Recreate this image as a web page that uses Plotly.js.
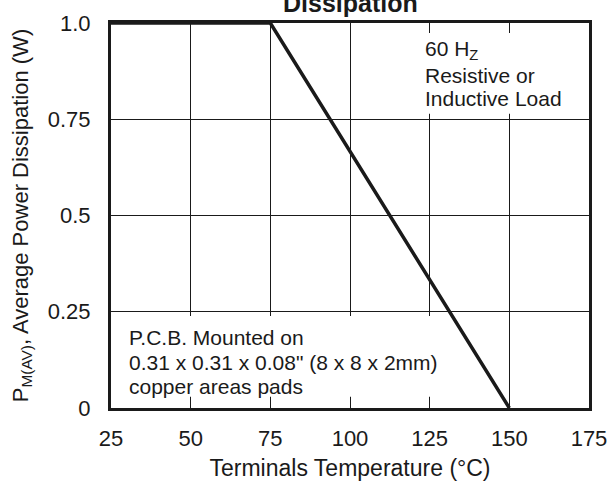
<!DOCTYPE html>
<html>
<head>
<meta charset="utf-8">
<script src="https://cdn.plot.ly/plotly-3.0.1.min.js"></script>
<style>html,body{margin:0;padding:0;background:#fff;}#chart{width:612px;height:483px;}</style>
</head>
<body>
<div id="chart"></div>
<script>
// Data
const tempC = [25, 75, 150];
const powerW = [1.0, 1.0, 0.0];
const xTicks = [25, 50, 75, 100, 125, 150, 175];
const yTicks = [0, 0.25, 0.5, 0.75, 1.0];
const yTickText = ['0', '0.25', '0.5', '0.75', '1.0'];

const FONT = 'Liberation Sans, Arial, Helvetica, sans-serif';
const INK = '#1a1a1a';

const traces = [{
  x: tempC, y: powerW, type: 'scatter', mode: 'lines',
  line: {color: INK, width: 3.5}, hoverinfo: 'skip', showlegend: false, cliponaxis: false
}];

function note(text, x, y, size) {
  return {text: text, xref: 'paper', yref: 'paper', x: x, y: y, xanchor: 'left', yanchor: 'middle',
          showarrow: false, font: {family: FONT, size: size, color: INK}};
}

const layout = {
  width: 612, height: 483,
  margin: {l: 111, r: 23, t: 23, b: 75},
  paper_bgcolor: '#fff', plot_bgcolor: '#fff',
  font: {family: FONT, color: INK, size: 22},
  xaxis: {
    range: [25, 175], tickvals: xTicks, ticktext: xTicks.map(String),
    showgrid: true, gridcolor: INK, gridwidth: 1, zeroline: false,
    showline: true, mirror: true, linecolor: INK, linewidth: 3,
    ticks: 'outside', ticklen: 9, tickcolor: 'rgba(0,0,0,0)',
    tickfont: {family: FONT, size: 22, color: INK},
    title: {text: 'Terminals Temperature (°C)', font: {family: FONT, size: 23, color: INK}, standoff: 10}
  },
  yaxis: {
    range: [0, 1.0], tickvals: yTicks, ticktext: yTickText,
    showgrid: true, gridcolor: INK, gridwidth: 1, zeroline: false,
    showline: true, mirror: true, linecolor: INK, linewidth: 3,
    ticks: 'outside', ticklen: 13, tickcolor: 'rgba(0,0,0,0)',
    tickfont: {family: FONT, size: 22, color: INK},
    title: {text: 'P<sub>M(AV)</sub>, Average Power Dissipation (W)', font: {family: FONT, size: 22, color: INK}, standoff: 14}
  },
  shapes: [
    {type: 'rect', xref: 'paper', yref: 'paper', x0: 0.636, x1: 0.995, y0: 0.764, y1: 0.974,
     fillcolor: '#fff', line: {width: 0}, layer: 'above'},
    {type: 'rect', xref: 'paper', yref: 'paper', x0: 0.005, x1: 0.697, y0: 0.029, y1: 0.239,
     fillcolor: '#fff', line: {width: 0}, layer: 'above'}
  ],
  annotations: [
    {text: '<b>Dissipation</b>', xref: 'paper', yref: 'paper', x: 0.5, y: 1.052, xanchor: 'center', yanchor: 'middle',
     showarrow: false, font: {family: FONT, size: 25, color: INK}},
    note('60 H<sub>Z</sub>', 0.653, 0.93, 21),
    note('Resistive or', 0.653, 0.864, 21),
    note('Inductive Load', 0.653, 0.804, 21),
    note('P.C.B. Mounted on', 0.0335, 0.184, 21),
    note('0.31 x 0.31 x 0.08" (8 x 8 x 2mm)', 0.0335, 0.119, 21),
    note('copper areas pads', 0.0335, 0.057, 21)
  ]
};

Plotly.newPlot('chart', traces, layout, {displayModeBar: false, staticPlot: true});
</script>
</body>
</html>
